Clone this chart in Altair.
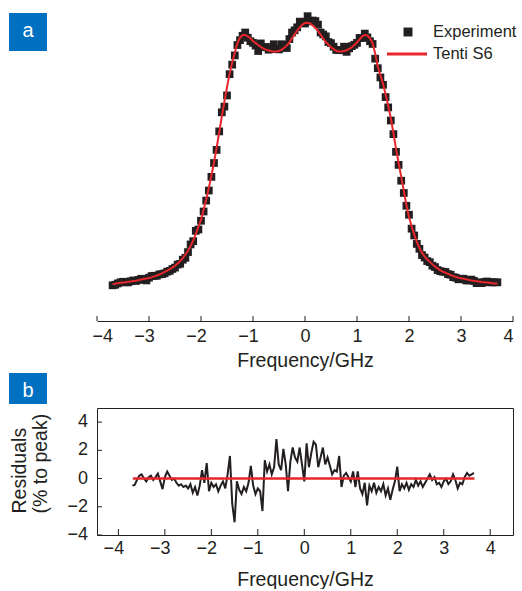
import altair as alt
import pandas as pd

FONT = "Liberation Sans"
DARK = "#231f20"
RED = "#e8262b"
BLUE = "#0070c0"

# ---- data -----------------------------------------------------------------
# sample frequencies (GHz): uniform 0.05 GHz grid from -3.70 to 3.70
freq = [round(-3.70 + 0.05 * i, 2) for i in range(149)]

# panel a: Tenti S6 fit (normalised intensity)
fit = [
    0.016, 0.017, 0.019, 0.020, 0.021, 0.022, 0.024, 0.025, 0.027, 0.028,
    0.030, 0.032, 0.034, 0.036, 0.038, 0.040, 0.044, 0.047, 0.051, 0.055,
    0.060, 0.065, 0.070, 0.076, 0.083, 0.091, 0.100, 0.111, 0.124, 0.138,
    0.155, 0.176, 0.200, 0.225, 0.251, 0.288, 0.326, 0.368, 0.414, 0.462,
    0.515, 0.573, 0.630, 0.685, 0.738, 0.788, 0.829, 0.866, 0.899, 0.920,
    0.930, 0.930, 0.925, 0.918, 0.908, 0.900, 0.893, 0.886, 0.880, 0.876,
    0.873, 0.870, 0.869, 0.869, 0.871, 0.876, 0.883, 0.891, 0.903, 0.918,
    0.932, 0.946, 0.958, 0.968, 0.974, 0.975, 0.972, 0.965, 0.956, 0.945,
    0.931, 0.917, 0.904, 0.894, 0.885, 0.878, 0.872, 0.869, 0.869, 0.871,
    0.874, 0.879, 0.885, 0.893, 0.903, 0.914, 0.925, 0.930, 0.928, 0.918,
    0.900, 0.862, 0.813, 0.783, 0.750, 0.712, 0.670, 0.625, 0.570, 0.513,
    0.460, 0.410, 0.358, 0.305, 0.262, 0.228, 0.198, 0.170, 0.148, 0.130,
    0.117, 0.106, 0.097, 0.088, 0.080, 0.073, 0.066, 0.061, 0.057, 0.053,
    0.049, 0.045, 0.042, 0.039, 0.037, 0.035, 0.033, 0.031, 0.029, 0.028,
    0.026, 0.025, 0.023, 0.022, 0.021, 0.020, 0.019, 0.018, 0.018,
]

# panel a: experiment (normalised intensity)
experiment = [
    0.011, 0.013, 0.018, 0.022, 0.024, 0.022, 0.022, 0.026, 0.029, 0.027,
    0.031, 0.035, 0.032, 0.029, 0.039, 0.045, 0.046, 0.046, 0.051, 0.052,
    0.055, 0.061, 0.064, 0.071, 0.076, 0.087, 0.090, 0.105, 0.112, 0.133,
    0.161, 0.173, 0.211, 0.216, 0.248, 0.282, 0.322, 0.359, 0.409, 0.460,
    0.508, 0.576, 0.646, 0.667, 0.708, 0.786, 0.821, 0.855, 0.893, 0.911,
    0.927, 0.939, 0.920, 0.907, 0.901, 0.891, 0.871, 0.899, 0.885, 0.886,
    0.876, 0.878, 0.896, 0.879, 0.877, 0.896, 0.893, 0.882, 0.915, 0.939,
    0.947, 0.958, 0.979, 0.978, 0.972, 0.999, 0.980, 0.983, 0.981, 0.968,
    0.939, 0.932, 0.925, 0.904, 0.900, 0.887, 0.875, 0.875, 0.874, 0.887,
    0.868, 0.881, 0.889, 0.894, 0.901, 0.919, 0.919, 0.935, 0.921, 0.907,
    0.897, 0.843, 0.808, 0.774, 0.747, 0.702, 0.664, 0.616, 0.566, 0.501,
    0.453, 0.395, 0.350, 0.303, 0.270, 0.219, 0.194, 0.163, 0.145, 0.122,
    0.113, 0.100, 0.096, 0.083, 0.078, 0.067, 0.063, 0.061, 0.060, 0.052,
    0.050, 0.041, 0.039, 0.033, 0.035, 0.035, 0.029, 0.029, 0.032, 0.027,
    0.019, 0.022, 0.019, 0.023, 0.025, 0.022, 0.022, 0.022, 0.022,
]

# panel b: residuals (% to peak), -3.70 .. 3.65 GHz
residuals = [
    -0.5, -0.45, -0.1, 0.2, 0.3, 0.0, -0.2, 0.1, 0.2, -0.1,
    0.1, 0.35, -0.2, -0.75, 0.1, 0.5, 0.2, -0.1, 0.0, -0.3,
    -0.5, -0.4, -0.6, -0.5, -0.7, -0.4, -1.0, -0.6, -1.2, -0.5,
    0.6, -0.3, 1.1, -0.9, -0.3, -0.6, -0.4, -0.9, -0.5, -0.2,
    -0.7, 0.3, 1.6, -1.8, -3.1, -0.2, -0.8, -1.1, -0.6, -0.9,
    -0.3, 0.9, -0.5, -1.1, -0.7, -0.9, -2.3, 1.3, 0.5, 1.0,
    0.3, 0.8, 2.8, 1.0, 0.6, 2.1, 1.0, -0.9, 1.2, 2.2,
    1.5, 1.2, 2.2, 1.0, -0.2, 2.5, 0.8, 1.8, 2.6, 2.4,
    0.8, 1.5, 2.2, 1.0, 1.5, 0.9, 0.3, 0.6, 0.5, 1.6,
    -0.6, 0.2, 0.4, 0.1, -0.2, 0.5, -0.6, 0.5, -0.7, -1.1,
    -0.3, -1.9, -0.5, -0.9, -0.3, -1.0, -0.6, -0.9, -0.4, -1.2,
    -0.7, -1.5, -0.8, -0.2, 0.85, -0.9, -0.4, -0.7, -0.3, -0.8,
    -0.4, -0.6, -0.1, -0.5, -0.2, -0.6, -0.3, 0.0, 0.3, -0.1,
    0.1, -0.4, -0.3, -0.6, -0.2, 0.0, -0.4, -0.2, 0.3, -0.1,
    -0.7, -0.3, -0.4, 0.1, 0.4, 0.2, 0.3, 0.4,
]

zero_freq = [-3.69, 3.66]
zero_vals = [0.0, 0.0]

x_ticks = [-4, -3, -2, -1, 0, 1, 2, 3, 4]
y_ticks_b = [-4, -2, 0, 2, 4]
y_tick_labels_b = ["\u22124", "\u22122", "0", "2", "4"]
legend_items = ["Experiment", "Tenti S6"]

# ---- panel a ---------------------------------------------------------------
W = 416
HA = 316
HB = 127

NEG_SHIFT = {"condition": {"test": "datum.value < 0", "value": -5}, "value": 0}

df_a = pd.DataFrame({"freq": freq, "exp": experiment, "fit": fit})
df_xt = pd.DataFrame({"freq": x_ticks})

xa = alt.X(
    "freq:Q",
    scale=alt.Scale(domain=[-4, 4], nice=False, zero=False),
    axis=alt.Axis(
        values=x_ticks, title="Frequency/GHz", ticks=False, tickSize=0, grid=False,
        domainColor=DARK, domainWidth=1, labelFontSize=18, labelPadding=6,
        labelColor=DARK, labelFont=FONT, titleFont=FONT, titleFontSize=19.5,
        titleFontWeight="normal", titleColor=DARK, titlePadding=6, format="d",
        labelOffset=NEG_SHIFT, labelOverlap=False,
    ),
)
ya = alt.Y("exp:Q", scale=alt.Scale(domain=[-0.12, 1.04], nice=False, zero=False), axis=None)

pts = alt.Chart(df_a).mark_square(size=60, color=DARK, opacity=1).encode(x=xa, y=ya)
fit_line = alt.Chart(df_a).mark_line(color=RED, strokeWidth=2).encode(
    x="freq:Q", y="fit:Q"
)
ticks_a = alt.Chart(df_xt).mark_rule(color=DARK, strokeWidth=1).encode(
    x="freq:Q", y=alt.value(HA), y2=alt.value(HA - 5)
)

leg = pd.DataFrame({"label": legend_items})
leg_sq = alt.Chart(leg).transform_filter(alt.datum.label == "Experiment").mark_square(
    size=80, color=DARK, opacity=1
).encode(x=alt.value(311), y=alt.value(27))
leg_ln = alt.Chart(leg).transform_filter(alt.datum.label == "Tenti S6").mark_rule(
    color=RED, strokeWidth=3
).encode(x=alt.value(290), x2=alt.value(330), y=alt.value(49))
leg_tx1 = alt.Chart(leg).transform_filter(alt.datum.label == "Experiment").mark_text(
    align="left", baseline="middle", font=FONT, fontSize=16.5, color=DARK
).encode(x=alt.value(336), y=alt.value(27), text="label:N")
leg_tx2 = alt.Chart(leg).transform_filter(alt.datum.label == "Tenti S6").mark_text(
    align="left", baseline="middle", font=FONT, fontSize=16.5, color=DARK
).encode(x=alt.value(336), y=alt.value(49), text="label:N")

tag_a = pd.DataFrame({"tag": ["a"]})
box_a = alt.Chart(tag_a).mark_rect(color=BLUE).encode(
    x=alt.value(-88), x2=alt.value(-50), y=alt.value(8), y2=alt.value(46)
)
txt_a = alt.Chart(tag_a).mark_text(
    align="center", baseline="alphabetic", font=FONT, fontSize=20, color="white"
).encode(x=alt.value(-69), y=alt.value(32), text="tag:N")

panel_a = alt.layer(
    pts, fit_line, ticks_a, box_a, txt_a, leg_sq, leg_ln, leg_tx1, leg_tx2
).properties(width=W, height=HA, view=alt.ViewBackground(stroke=None))

# ---- panel b ---------------------------------------------------------------
df_b = pd.DataFrame({"freq": freq[: len(residuals)], "res": residuals})
df_zero = pd.DataFrame({"freq": zero_freq, "res": zero_vals})
df_yt = pd.DataFrame({"res": y_ticks_b, "lab": y_tick_labels_b})

xb = alt.X(
    "freq:Q",
    scale=alt.Scale(domain=[-4.46, 4.49], nice=False, zero=False),
    axis=alt.Axis(
        values=x_ticks, title="Frequency/GHz", ticks=False, tickSize=0, grid=False,
        domain=False, labelFontSize=18, labelPadding=4, labelColor=DARK,
        labelFont=FONT, titleFont=FONT, titleFontSize=19.5, titleFontWeight="normal",
        titleColor=DARK, titlePadding=13, format="d",
        labelOffset=NEG_SHIFT, labelOverlap=False,
    ),
)
yb = alt.Y(
    "res:Q",
    scale=alt.Scale(domain=[-4, 5], nice=False, zero=False),
    axis=alt.Axis(
        values=y_ticks_b, title=["Residuals", "(% to peak)"], ticks=False, tickSize=0,
        grid=False, domain=False, labels=False,
        titleFont=FONT, titleFontSize=19.5, titleFontWeight="normal",
        titleColor=DARK, titleLineHeight=21,
        titleAngle=270, titleAlign="left", titleBaseline="alphabetic",
        titleX=-72, titleY=105,
    ),
)

res_line = alt.Chart(df_b).mark_line(color=DARK, strokeWidth=2).encode(x=xb, y=yb)
zero_line = alt.Chart(df_zero).mark_line(color=RED, strokeWidth=2.5).encode(
    x="freq:Q", y="res:Q"
)
xt_b = alt.Chart(df_xt).mark_rule(color=DARK, strokeWidth=1).encode(
    x="freq:Q", y=alt.value(HB), y2=alt.value(HB - 6)
)
yt_b = alt.Chart(df_yt).mark_rule(color=DARK, strokeWidth=1).encode(
    y="res:Q", x=alt.value(0), x2=alt.value(5)
)
yl_b = alt.Chart(df_yt).mark_text(
    align="right", baseline="middle", font=FONT, fontSize=18, color=DARK
).encode(y="res:Q", x=alt.value(-9), text="lab:N")

tag_b = pd.DataFrame({"tag": ["b"]})
box_b = alt.Chart(tag_b).mark_rect(color=BLUE).encode(
    x=alt.value(-88), x2=alt.value(-50), y=alt.value(-35), y2=alt.value(-4)
)
txt_b = alt.Chart(tag_b).mark_text(
    align="center", baseline="alphabetic", font=FONT, fontSize=20, color="white"
).encode(x=alt.value(-69), y=alt.value(-11), text="tag:N")

panel_b = alt.layer(res_line, zero_line, xt_b, yt_b, yl_b, box_b, txt_b).properties(
    width=W, height=HB, view=alt.ViewBackground(stroke=DARK, strokeWidth=1)
)

chart = alt.vconcat(panel_a, panel_b, spacing=87, bounds="flush").properties(
    padding={"left": 8, "top": 5, "right": 2, "bottom": 0}
).configure(font=FONT)

chart.save("out.html", embed_options={"renderer": "svg", "actions": False})
